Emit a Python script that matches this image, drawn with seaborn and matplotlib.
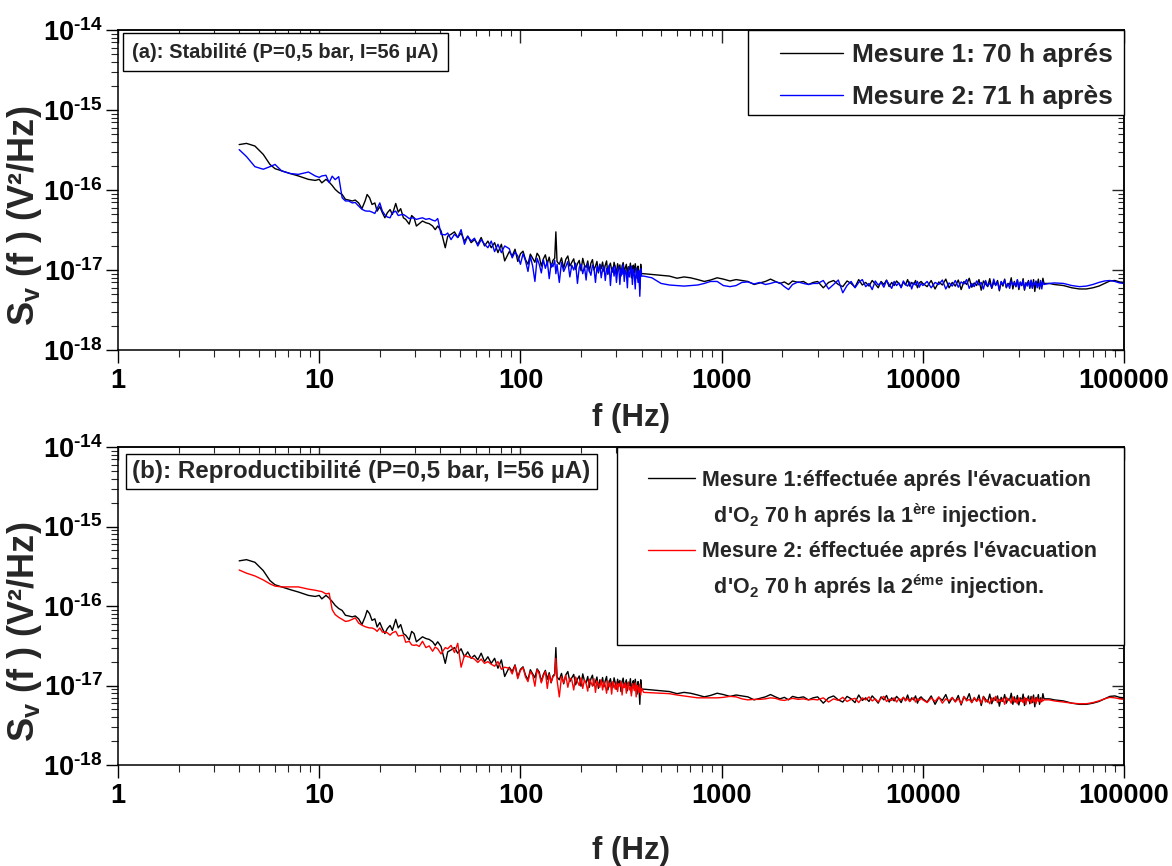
import numpy as np
import pandas as pd
import matplotlib
matplotlib.use('Agg')
import matplotlib.pyplot as plt
import seaborn as sns
from matplotlib.lines import Line2D
from matplotlib.patches import Rectangle
from matplotlib.ticker import FixedLocator, FixedFormatter, LogLocator, NullFormatter, FuncFormatter

# spectra S_v(f), values in units of 1e-19 V^2/Hz, frequencies in Hz
# segment 1 : 4 - 85 Hz
f_lo = [4.00, 4.35, 4.79, 5.27, 5.69, 6.03, 6.51, 7.16, 7.88, 8.84,
        9.55, 10.0, 10.3, 10.8, 11.2, 11.6, 12.0, 12.5, 13.0, 13.5,
        14.0, 14.6, 15.1, 15.7, 16.3, 16.9, 17.3, 17.8, 18.3, 18.9,
        19.4, 20.0, 20.6, 21.2, 21.8, 22.5, 23.1, 24.0, 24.7, 25.4,
        26.2, 26.9, 28.0, 28.8, 29.6, 30.4, 31.4, 32.6, 33.9, 35.2,
        36.6, 37.7, 38.8, 40.3, 42.3, 43.5, 45.2, 47.0, 48.8, 50.7,
        52.7, 54.7, 56.9, 59.1, 61.4, 63.8, 66.3, 68.9, 71.6, 74.4,
        77.3, 80.4, 83.5]
m1_lo = [3700, 3830, 3550, 2790, 2090, 1850, 1740, 1610, 1500, 1360,
         1320, 1360, 1230, 1360, 1260, 1140, 1020, 930, 880, 765,
         750, 730, 750, 690, 585, 730, 880, 800, 660, 690,
         545, 620, 520, 450, 520, 570, 495, 680, 530, 585,
         450, 430, 375, 480, 450, 355, 380, 410, 390, 380,
         355, 320, 355, 310, 190, 265, 280, 300, 255, 290,
         230, 265, 220, 240, 210, 255, 200, 230, 190, 220,
         165, 210, 130]
m2a_lo = [3200, 2620, 1960, 1820, 1960, 2090, 1730, 1610, 1570, 1680,
          1500, 1440, 1500, 1530, 1240, 1490, 1350, 1470, 800, 730,
          730, 690, 700, 630, 575, 550, 545, 545, 530, 510,
          585, 690, 545, 490, 460, 450, 520, 545, 480, 490,
          495, 475, 440, 450, 445, 430, 440, 450, 430, 440,
          420, 410, 440, 280, 275, 290, 240, 280, 255, 320,
          210, 265, 230, 250, 200, 240, 210, 190, 230, 170,
          210, 165, 200]
m2b_lo = [2840, 2590, 2390, 2130, 1900, 1780, 1740, 1740, 1740, 1630,
          1580, 1540, 1520, 1420, 1450, 900, 780, 720, 680, 640,
          650, 680, 710, 610, 575, 550, 540, 530, 530, 510,
          480, 530, 470, 470, 460, 430, 460, 480, 420, 425,
          430, 350, 360, 325, 320, 325, 310, 360, 300, 315,
          270, 305, 290, 250, 300, 290, 320, 260, 340, 170,
          240, 230, 225, 215, 195, 215, 190, 200, 185, 175,
          200, 160, 170]

# segment 2 : 88 - 400 Hz
f_s2 = [88, 91, 94, 97, 100, 103, 106, 109, 112, 115,
        118, 121, 124, 127, 130, 133, 136, 139, 142, 145,
        148, 150, 152, 156, 160, 164, 168, 172, 176, 180,
        184, 188, 192, 196, 200, 204, 208, 212, 216, 220,
        224, 228, 232, 236, 240, 244, 248, 252, 256, 260,
        264, 268, 272, 276, 280, 284, 288, 292, 296, 300,
        304, 308, 312, 316, 320, 324, 328, 332, 336, 340,
        344, 348, 352, 356, 360, 364, 368, 372, 376, 380,
        384, 388, 392, 396, 400]
m1_s2 = [170, 150, 182, 128, 160, 172, 135, 118, 158, 140,
         125, 162, 148, 112, 138, 155, 120, 145, 108, 132,
         140, 300, 128, 118, 142, 105, 136, 150, 112, 125,
         138, 102, 120, 132, 98, 140, 115, 108, 130, 95,
         122, 135, 100, 112, 128, 92, 118, 104, 126, 96,
         115, 130, 88, 110, 122, 100, 94, 125, 108, 90,
         120, 102, 116, 84, 112, 124, 96, 106, 118, 86,
         110, 100, 122, 80, 105, 115, 92, 120, 98, 78,
         112, 95, 58, 118, 90]
m2a_s2 = [185, 142, 168, 150, 118, 160, 130, 96, 148, 112,
          72, 140, 118, 92, 135, 105, 128, 78, 120, 110,
          132, 90, 118, 70, 125, 96, 110, 128, 82, 115,
          100, 122, 68, 108, 118, 90, 112, 75, 120, 98,
          86, 115, 104, 70, 110, 95, 118, 80, 102, 112,
          74, 105, 92, 115, 64, 100, 108, 84, 112, 70,
          98, 110, 66, 104, 88, 116, 72, 100, 92, 60,
          108, 82, 96, 112, 66, 102, 88, 58, 106, 94,
          70, 98, 47, 104, 84]
m2b_s2 = [165, 140, 178, 122, 155, 168, 128, 112, 150, 135,
          98, 158, 140, 108, 132, 150, 92, 138, 110, 128,
          135, 220, 118, 72, 130, 108, 135, 95, 124, 118,
          88, 128, 112, 100, 125, 92, 118, 106, 85, 120,
          110, 98, 122, 82, 114, 104, 95, 118, 88, 112,
          100, 80, 115, 96, 108, 78, 112, 102, 90, 110,
          84, 106, 98, 112, 76, 104, 94, 108, 80, 100,
          110, 88, 96, 74, 106, 98, 86, 108, 72, 100,
          94, 82, 104, 76, 92]

# segment 3 : 410 - 2850 Hz
f_s3 = [410, 450, 500, 550, 600, 650, 700, 760, 820, 880,
        950, 1020, 1100, 1180, 1260, 1350, 1450, 1550, 1650, 1750,
        1850, 1950, 2050, 2150, 2250, 2400, 2550, 2700, 2850]
m1_s3 = [90, 88, 86, 84, 79, 82, 80, 76, 72, 75,
         80, 77, 73, 76, 74, 72, 66, 69, 72, 77,
         72, 68, 71, 66, 73, 70, 72, 66, 70]
m2a_s3 = [84, 80, 68, 65, 64, 63, 64, 65, 68, 72,
          72, 64, 62, 64, 70, 71, 67, 70, 66, 68,
          71, 69, 62, 57, 66, 71, 68, 66, 68]
m2b_s3 = [82, 81, 80, 79, 76, 74, 72, 70, 70, 70,
          70, 71, 73, 72, 68, 66, 67, 67, 68, 70,
          69, 66, 65, 67, 69, 67, 68, 66, 67]

# segment 4 : 3 - 9.8 kHz
f_s4 = [3000, 3200, 3400, 3600, 3800, 4000, 4200, 4400, 4600, 4800,
        5000, 5200, 5400, 5600, 5800, 6000, 6200, 6400, 6600, 6800,
        7000, 7200, 7400, 7600, 7800, 8000, 8200, 8400, 8600, 8800,
        9000, 9200, 9400, 9600, 9800]
m1_s4 = [72, 60, 70, 74, 66, 62, 73, 68, 61, 76,
         65, 70, 63, 74, 67, 60, 72, 66, 75, 62,
         70, 64, 73, 68, 61, 71, 65, 76, 63, 70,
         66, 74, 60, 69, 72]
m2a_s4 = [68, 74, 58, 66, 75, 52, 64, 72, 60, 70,
          76, 62, 68, 57, 73, 65, 70, 61, 74, 66,
          59, 72, 64, 69, 60, 73, 66, 63, 71, 58,
          69, 65, 72, 61, 68]
m2b_s4 = [66, 70, 62, 68, 65, 71, 63, 67, 69, 61,
          70, 66, 72, 64, 68, 62, 69, 73, 63, 67,
          65, 70, 62, 68, 66, 71, 64, 69, 63, 67,
          70, 62, 68, 65, 69]

# segment 5 : 10 - 40 kHz
f_s5 = [10000, 10500, 11000, 11500, 12000, 12500, 13000, 13500, 14000, 14500,
        15000, 15500, 16000, 16500, 17000, 17500, 18000, 18500, 19000, 19500,
        20000, 20500, 21000, 21500, 22000, 22500, 23000, 23500, 24000, 24500,
        25000, 25500, 26000, 26500, 27000, 27500, 28000, 28500, 29000, 29500,
        30000, 30500, 31000, 31500, 32000, 32500, 33000, 33500, 34000, 34500,
        35000, 35500, 36000, 36500, 37000, 37500, 38000, 38500, 39000, 39500,
        40000]
m1_s5 = [68, 62, 74, 58, 71, 65, 77, 60, 70, 63,
         75, 57, 72, 66, 79, 61, 69, 64, 76, 56,
         73, 67, 62, 78, 59, 70, 65, 74, 55, 71,
         63, 77, 60, 68, 66, 80, 58, 72, 62, 75,
         57, 70, 64, 78, 56, 69, 67, 74, 59, 73,
         61, 76, 54, 71, 65, 77, 58, 70, 63, 79,
         68]
m2a_s5 = [64, 72, 60, 70, 66, 75, 58, 69, 63, 74,
          61, 71, 67, 76, 59, 68, 62, 73, 65, 70,
          58, 74, 63, 69, 60, 77, 64, 71, 57, 72,
          66, 75, 61, 68, 59, 73, 65, 70, 62, 76,
          60, 71, 64, 74, 58, 69, 63, 72, 61, 75,
          59, 70, 65, 73, 60, 68, 62, 74, 58, 71,
          66]
m2b_s5 = [66, 61, 70, 63, 72, 60, 68, 64, 71, 62,
          69, 59, 73, 64, 67, 61, 71, 63, 68, 60,
          72, 62, 66, 59, 70, 64, 73, 61, 67, 63,
          69, 58, 71, 65, 66, 60, 72, 62, 68, 59,
          70, 63, 67, 61, 71, 58, 69, 64, 66, 60,
          72, 62, 68, 59, 70, 63, 67, 61, 69, 64,
          66]

# segment 6 : 42.5 - 100 kHz
f_hi = [42500, 45000, 50000, 55000, 60000, 65000, 70000, 75000, 80000, 85000,
        90000, 95000, 100000]
m1_hi = [68, 66, 64, 60, 58, 58, 60, 63, 68, 73, 74, 71, 70]
m2a_hi = [68, 69, 68, 64, 62, 63, 66, 70, 73, 74, 72, 69, 68]
m2b_hi = [66, 64, 62, 60, 59, 59, 61, 64, 68, 71, 70, 68, 67]

x_ticks = [1, 10, 100, 1000, 10000, 100000]
y_ticks = [1e-18, 1e-17, 1e-16, 1e-15, 1e-14]
y_ticklabels = ['10$^{‐18}$', '10$^{‐17}$', '10$^{‐16}$', '10$^{‐15}$', '10$^{‐14}$']

labels_a = ['Mesure 1: 70 h aprés', 'Mesure 2: 71 h après']
labels_b = ["Mesure 1:éffectuée aprés l'évacuation",
            "  d'O$_2$ 70 h aprés la 1$^{ère}$ injection.",
            "Mesure 2: éffectuée aprés l'évacuation",
            "  d'O$_2$ 70 h aprés la 2$^{éme}$ injection."]
title_a = '(a): Stabilité (P=0,5 bar, I=56 µA)'
title_b = '(b): Reproductibilité (P=0,5 bar, I=56 µA)'

f_all = f_lo + f_s2 + f_s3 + f_s4 + f_s5 + f_hi
m1 = m1_lo + m1_s2 + m1_s3 + m1_s4 + m1_s5 + m1_hi
m2a = m2a_lo + m2a_s2 + m2a_s3 + m2a_s4 + m2a_s5 + m2a_hi
m2b = m2b_lo + m2b_s2 + m2b_s3 + m2b_s4 + m2b_s5 + m2b_hi

n = len(f_all)
df_a = pd.DataFrame({'f': f_all * 2, 'sv': np.array(m1 + m2a) * 1e-19,
                     'mesure': ['Mesure 1'] * n + ['Mesure 2'] * n})
df_b = pd.DataFrame({'f': f_all * 2, 'sv': np.array(m1 + m2b) * 1e-19,
                     'mesure': ['Mesure 1'] * n + ['Mesure 2'] * n})

sns.set_theme(style='ticks')
plt.rcParams['font.family'] = ['Liberation Sans', 'DejaVu Sans']
plt.rcParams['font.weight'] = 'bold'
plt.rcParams['mathtext.fontset'] = 'custom'
plt.rcParams['mathtext.rm'] = 'Liberation Sans:bold'
plt.rcParams['mathtext.it'] = 'Liberation Sans:bold'
plt.rcParams['mathtext.bf'] = 'Liberation Sans:bold'
plt.rcParams['mathtext.default'] = 'rm'

fig = plt.figure(figsize=(11.72, 8.66), dpi=100)
ax_a = fig.add_axes([0.1007, 0.5958, 0.8584, 0.3695])
ax_b = fig.add_axes([0.1007, 0.1166, 0.8584, 0.3672])

sns.lineplot(data=df_a, x='f', y='sv', hue='mesure', palette={'Mesure 1': 'black', 'Mesure 2': 'blue'},
             estimator=None, sort=False, lw=1, legend=False, ax=ax_a)
sns.lineplot(data=df_b, x='f', y='sv', hue='mesure', palette={'Mesure 1': 'black', 'Mesure 2': 'red'},
             estimator=None, sort=False, lw=1, legend=False, ax=ax_b)


def style_axes(ax, xlab_y):
    ax.set_xscale('log')
    ax.set_yscale('log')
    ax.set_xlim(1, 1e5)
    ax.set_ylim(1e-18, 1e-14)
    ax.xaxis.set_major_locator(FixedLocator(x_ticks))
    ax.xaxis.set_major_formatter(FuncFormatter(lambda v, p: f'{v:.0f}'))
    ax.xaxis.set_minor_locator(LogLocator(base=10, subs=np.arange(2, 10), numticks=20))
    ax.xaxis.set_minor_formatter(NullFormatter())
    ax.yaxis.set_major_locator(FixedLocator(y_ticks))
    ax.yaxis.set_major_formatter(FixedFormatter(y_ticklabels))
    ax.yaxis.set_minor_locator(LogLocator(base=10, subs=np.arange(2, 10), numticks=20))
    ax.yaxis.set_minor_formatter(NullFormatter())
    ax.tick_params(which='major', direction='out', length=9, width=1, labelsize=19.5,
                   top=False, right=False, colors='black')
    ax.tick_params(which='minor', direction='out', length=5, width=0.8, top=False, right=False)
    ax.tick_params(axis='x', which='major', pad=4)
    ax.tick_params(axis='y', which='major', pad=2)
    for s in ax.spines.values():
        s.set_visible(True)
        s.set_linewidth(1.1)
        s.set_color('black')
    # ticks pointing inwards on top and right
    top = ax.secondary_xaxis('top')
    top.xaxis.set_major_locator(FixedLocator(x_ticks))
    top.xaxis.set_minor_locator(LogLocator(base=10, subs=np.arange(2, 10), numticks=20))
    top.xaxis.set_major_formatter(NullFormatter())
    top.xaxis.set_minor_formatter(NullFormatter())
    top.tick_params(which='major', direction='in', length=9, width=1)
    top.tick_params(which='minor', direction='in', length=4, width=0.8)
    right = ax.secondary_yaxis('right')
    right.yaxis.set_major_locator(FixedLocator(y_ticks))
    right.yaxis.set_minor_locator(LogLocator(base=10, subs=np.arange(2, 10), numticks=20))
    right.yaxis.set_major_formatter(NullFormatter())
    right.yaxis.set_minor_formatter(NullFormatter())
    right.tick_params(which='major', direction='in', length=9, width=1)
    right.tick_params(which='minor', direction='in', length=4, width=0.8)
    ax.set_xlabel('f (Hz)', fontsize=22.5, fontweight='bold')
    ax.xaxis.set_label_coords(0.51, xlab_y)
    ax.set_ylabel('$S_v$ (f ) (V²/Hz)', fontsize=26, fontweight='bold')
    ax.yaxis.set_label_coords(-0.074, 0.42)


style_axes(ax_a, -0.165)
style_axes(ax_b, -0.222)

ax_a.text(0.0143, 0.961, title_a, transform=ax_a.transAxes, ha='left', va='top',
          fontsize=14.5, fontweight='bold',
          bbox=dict(boxstyle='square,pad=0.47', fc='white', ec='black', lw=1))
ax_b.text(0.0143, 0.958, title_b, transform=ax_b.transAxes, ha='left', va='top',
          fontsize=17.4, fontweight='bold',
          bbox=dict(boxstyle='square,pad=0.25', fc='white', ec='black', lw=1))

# legend (a)
ax_a.add_patch(Rectangle((0.626, 0.734), 0.374, 0.266, transform=ax_a.transAxes,
                         fc='white', ec='black', lw=1, zorder=4, clip_on=False))
handles_a = [Line2D([], [], color='black', lw=1), Line2D([], [], color='blue', lw=1)]
ax_a.legend(handles_a, labels_a, loc='upper left', bbox_to_anchor=(0.658, 0.96), frameon=False,
            fontsize=19, handlelength=2.4, handletextpad=0.34, labelspacing=0.68,
            borderpad=0, borderaxespad=0)

# legend (b)
ax_b.add_patch(Rectangle((0.496, 0.377), 0.504, 0.623, transform=ax_b.transAxes,
                         fc='white', ec='black', lw=1, zorder=4, clip_on=False))
handles_b = [Line2D([], [], color='black', lw=1), Line2D([], [], color='none'),
             Line2D([], [], color='red', lw=1), Line2D([], [], color='none')]
ax_b.legend(handles_b, labels_b, loc='upper left', bbox_to_anchor=(0.527, 0.928), frameon=False,
            fontsize=15.5, handlelength=2.19, handletextpad=0.33, labelspacing=0.5,
            borderpad=0, borderaxespad=0)

fig.savefig('out.png', dpi=100)
